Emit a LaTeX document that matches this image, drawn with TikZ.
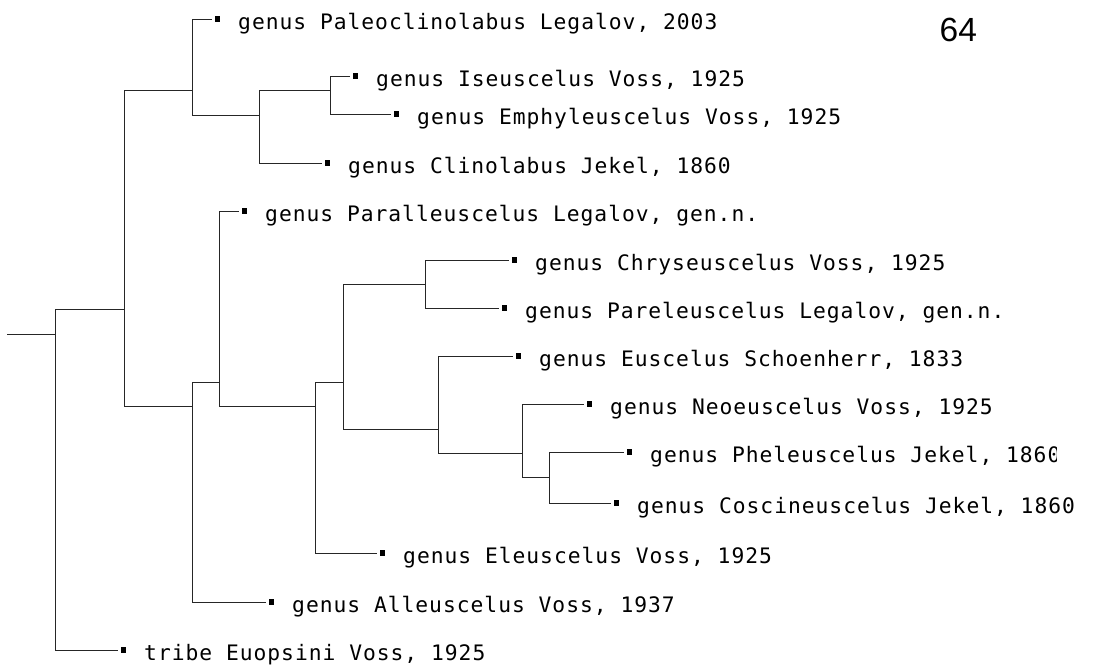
\documentclass[tikz,border=0pt]{standalone}
\usepackage{fontspec}
\newfontfamily\labfont[LetterSpace=4.6]{DejaVu Sans Mono}
\newfontfamily\numfont{Liberation Sans}
\tikzset{
  branch/.style={line width=0.9pt, draw=black!85, line cap=rect},
  tip/.style={rectangle, fill=black, draw=none, inner sep=0pt, minimum width=5pt, minimum height=6pt},
  lab/.style={anchor=base west, inner sep=0pt, font=\labfont\fontsize{21.3}{24}\selectfont},
  pagenum/.style={anchor=base west, inner sep=0pt, font=\numfont\fontsize{33.5}{36}\selectfont},
}
\newcommand\myleaf[4]{%
  \node[tip] (#1s) at (#2-22.5,#3) {};
  \node[lab] (#1) at (#2-2,#3+10.5) {#4};
}
\begin{document}
\begin{tikzpicture}[x=1pt,y=-1pt]
\useasboundingbox[fill=white] (0,0) rectangle (1093,666);

% internal nodes
\coordinate (st) at (7,334);
\coordinate (R) at (55,334);
\coordinate (A) at (124,309);
\coordinate (B) at (192,90);
\coordinate (C) at (259,115);
\coordinate (D) at (330,90);
\coordinate (E) at (192,406);
\coordinate (F) at (219,382);
\coordinate (G) at (315,406);
\coordinate (H) at (343,382);
\coordinate (I) at (425,284);
\coordinate (J) at (438,429);
\coordinate (K) at (522,453);
\coordinate (L) at (549,477);

% leaves
\myleaf{paleo}{240}{19}{genus Paleoclinolabus Legalov, 2003}
\myleaf{iseu}{378}{76}{genus Iseuscelus Voss, 1925}
\myleaf{emph}{419}{114}{genus Emphyleuscelus Voss, 1925}
\myleaf{clin}{350}{163}{genus Clinolabus Jekel, 1860}
\myleaf{parall}{267}{211}{genus Paralleuscelus Legalov, gen.n.}
\myleaf{chrys}{537}{260}{genus Chryseuscelus Voss, 1925}
\myleaf{parel}{527}{308}{genus Pareleuscelus Legalov, gen.n.}
\myleaf{eusc}{541}{356}{genus Euscelus Schoenherr, 1833}
\myleaf{neo}{612}{404}{genus Neoeuscelus Voss, 1925}
\begin{scope}
  \clip (600,430) rectangle (1056,480);
  \myleaf{phele}{652}{452}{genus Pheleuscelus Jekel, 1860}
\end{scope}
\myleaf{cosc}{639}{503}{genus Coscineuscelus Jekel, 1860}
\myleaf{eleus}{405}{553}{genus Eleuscelus Voss, 1925}
\myleaf{alleus}{294}{602}{genus Alleuscelus Voss, 1937}
\myleaf{tribe}{146}{650}{tribe Euopsini Voss, 1925}

\node[pagenum] (pg) at (939.5,42) {64};

% branches
\draw[branch] (st) -- (R);
\draw[branch] (R) |- (A);
\draw[branch, shorten >=3pt] (R) |- (tribes.west);
\draw[branch] (A) |- (B);
\draw[branch] (A) |- (E);
\draw[branch, shorten >=3pt] (B) |- (paleos.west);
\draw[branch] (B) |- (C);
\draw[branch] (C) |- (D);
\draw[branch, shorten >=3pt] (C) |- (clins.west);
\draw[branch, shorten >=3pt] (D) |- (iseus.west);
\draw[branch, shorten >=3pt] (D) |- (emphs.west);
\draw[branch] (E) |- (F);
\draw[branch, shorten >=3pt] (E) |- (alleuss.west);
\draw[branch, shorten >=3pt] (F) |- (paralls.west);
\draw[branch] (F) |- (G);
\draw[branch] (G) |- (H);
\draw[branch, shorten >=3pt] (G) |- (eleuss.west);
\draw[branch] (H) |- (I);
\draw[branch] (H) |- (J);
\draw[branch, shorten >=3pt] (I) |- (chryss.west);
\draw[branch, shorten >=3pt] (I) |- (parels.west);
\draw[branch, shorten >=3pt] (J) |- (euscs.west);
\draw[branch] (J) |- (K);
\draw[branch, shorten >=3pt] (K) |- (neos.west);
\draw[branch] (K) |- (L);
\draw[branch, shorten >=3pt] (L) |- (pheles.west);
\draw[branch, shorten >=3pt] (L) |- (coscs.west);
\end{tikzpicture}
\end{document}
